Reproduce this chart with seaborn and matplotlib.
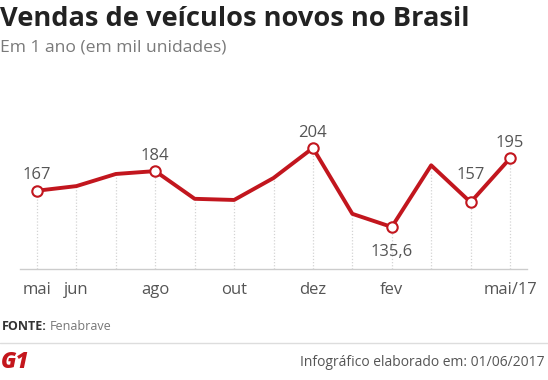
import numpy as np
import pandas as pd
import matplotlib
matplotlib.use("Agg")
import matplotlib.pyplot as plt
import seaborn as sns

# Vendas mensais (mil unidades), mai/16 a mai/17
meses = ['mai', 'jun', 'jul', 'ago', 'set', 'out', 'nov', 'dez', 'jan', 'fev', 'mar', 'abr', 'mai/17']
vendas = [167, 171, 181.5, 184, 160, 159, 178, 204, 147, 135.6, 189, 157, 195]
rotulos = ['167', '', '', '184', '', '', '', '204', '', '135,6', '', '157', '195']
meses_visiveis = ['mai', 'jun', '', 'ago', '', 'out', '', 'dez', '', 'fev', '', '', 'mai/17']

df = pd.DataFrame({'pos': range(len(meses)), 'mes': meses, 'vendas': vendas, 'rotulo': rotulos})

sns.set_style('white')
plt.rcParams['font.family'] = ['Open Sans', 'DejaVu Sans']

red = '#c2161e'
fig = plt.figure(figsize=(5.48, 3.80), dpi=100)
ax = fig.add_axes([20 / 548, 0.292, 507 / 548, 0.445])

# linhas verticais pontilhadas do ponto até a base
ax.vlines(df['pos'], 99.2, df['vendas'], color='#d4d4d4', lw=0.9, linestyles=(0, (1, 1.5)), zorder=1)

sns.lineplot(data=df, x='pos', y='vendas', color=red, lw=2.8, ax=ax, zorder=3)
marcados = df[df['rotulo'] != '']
ax.plot(marcados['pos'], marcados['vendas'], 'o', ms=7.5, mfc='white', mec=red, mew=1.5, zorder=4)

for _, r in marcados.iterrows():
    if r['rotulo'] == '135,6':
        off = -12
        va = 'top'
    elif r['rotulo'] == '157':
        off = 20
        va = 'center'
    else:
        off = 11
        va = 'center'
    ax.annotate(r['rotulo'], (r['pos'], r['vendas']), xytext=(0, off), textcoords='offset points',
                ha='center', va=va, fontsize=12, color='#555555')

ax.set_xlim(-0.431, 12.431)
ax.set_ylim(99.2, 245.6)
ax.set_xticks(range(len(meses)))
ax.set_xticklabels(meses_visiveis)
ax.tick_params(axis='x', length=0, labelsize=12, labelcolor='#555555', pad=9)
ax.set_yticks([])
ax.set_xlabel('')
ax.set_ylabel('')
for s in ['top', 'left', 'right']:
    ax.spines[s].set_visible(False)
ax.spines['bottom'].set_color('#cccccc')
ax.spines['bottom'].set_linewidth(1)

# titulos
fig.text(0.0, 1 - 19 / 380, 'Vendas de veículos novos no Brasil', fontsize=19.6, fontweight='bold',
         color='#222222', ha='left', va='center')
fig.text(0.0, 1 - 47 / 380, 'Em 1 ano (em mil unidades)', fontsize=12.6, color='#7a7a7a', ha='left', va='center')

# rodape
fig.text(2 / 548, 1 - 327 / 380, 'FONTE:', fontsize=9, fontweight='bold', color='#333333', ha='left', va='center')
fig.text(50 / 548, 1 - 327 / 380, 'Fenabrave', fontsize=9, color='#777777', ha='left', va='center')
fig.add_artist(plt.Line2D([0, 1], [1 - 343 / 380] * 2, color='#dddddd', lw=1))
fig.text(1 / 548, 1 - 362 / 380, 'G1', fontsize=16, fontweight='heavy', style='italic', color='#c4161c',
         ha='left', va='center')
fig.text(545 / 548, 1 - 362 / 380, 'Infográfico elaborado em: 01/06/2017', fontsize=10, color='#555555',
         ha='right', va='center')

fig.savefig('out.png', dpi=100)
